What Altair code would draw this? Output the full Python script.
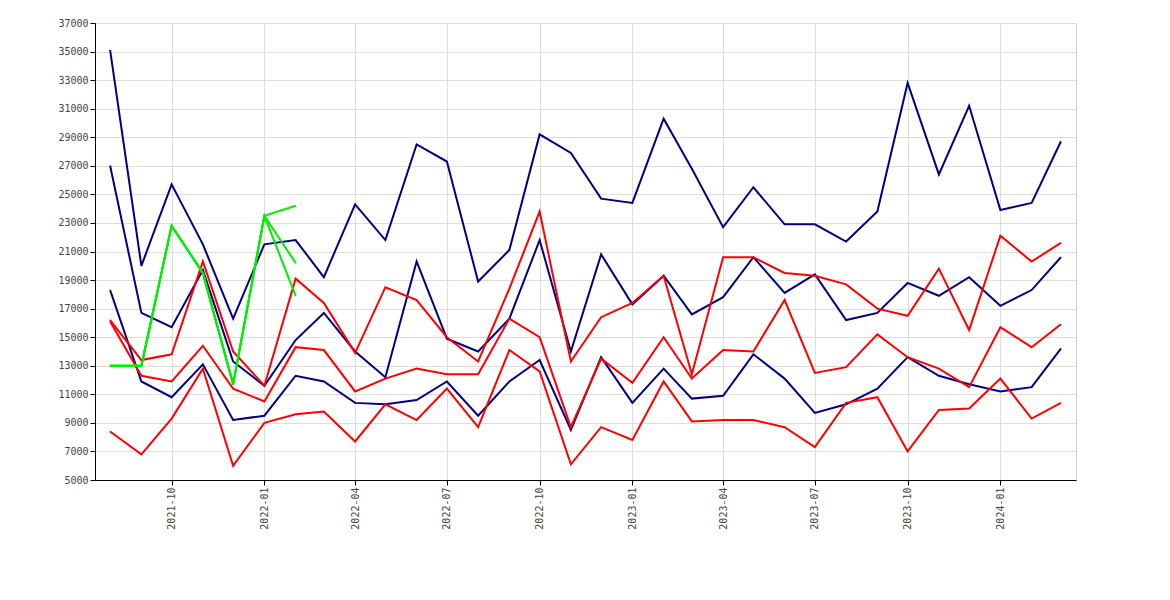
import altair as alt
import pandas as pd

months = pd.date_range("2021-08-01", "2024-03-01", freq="MS")

alle_max = [35100, 20000, 25700, 21500, 16300, 21500, 21800, 19200, 24300, 21800, 28500, 27300,
            18900, 21100, 29200, 27900, 24700, 24400, 30300, 26800, 22700, 25500, 22900, 22900,
            21700, 23800, 32800, 26400, 31200, 23900, 24400, 28700]
alle_mid = [27000, 16700, 15700, 19700, 13300, 11600, 14800, 16700, 14000, 12200, 20300, 14900,
            14000, 16300, 21800, 14000, 20800, 17300, 19300, 16600, 17800, 20600, 18100, 19400,
            16200, 16700, 18800, 17900, 19200, 17200, 18300, 20600]
alle_min = [18300, 11900, 10800, 13100, 9200, 9500, 12300, 11900, 10400, 10300, 10600, 11900,
            9500, 11900, 13400, 8500, 13600, 10400, 12800, 10700, 10900, 13800, 12100, 9700,
            10300, 11400, 13600, 12300, 11700, 11200, 11500, 14200]
villa_max = [16200, 13400, 13800, 20300, 14000, 11600, 19100, 17400, 13900, 18500, 17600, 15000,
             13300, 18400, 23800, 13300, 16400, 17400, 19300, 12400, 20600, 20600, 19500, 19300,
             18700, 17000, 16500, 19800, 15500, 22100, 20300, 21600]
villa_mid = [16100, 12300, 11900, 14400, 11400, 10500, 14300, 14100, 11200, 12100, 12800, 12400,
             12400, 16300, 15000, 8700, 13500, 11800, 15000, 12100, 14100, 14000, 17600, 12500,
             12900, 15200, 13600, 12800, 11500, 15700, 14300, 15900]
villa_min = [8400, 6800, 9300, 12800, 6000, 9000, 9600, 9800, 7700, 10300, 9200, 11400,
             8700, 14100, 12600, 6100, 8700, 7800, 11900, 9100, 9200, 9200, 8700, 7300,
             10400, 10800, 7000, 9900, 10000, 12100, 9300, 10400]
lejl_max = [13000, 13000, 22800, 19500, 11700, 23500, 24200]
lejl_mid = [13000, 13000, 22800, 19500, 11700, 23500, 20200]
lejl_min = [13000, 13000, 22800, 19500, 11700, 23500, 17900]

series = [
    ("a1", alle_max), ("a2", alle_min), ("Alle", alle_mid),
    ("v1", villa_max), ("v2", villa_min), ("Villa", villa_mid),
    ("l1", lejl_max), ("l2", lejl_min), ("Lejlighed", lejl_mid),
]
rows = []
for name, vals in series:
    for m, v in zip(months, vals):
        rows.append({"month": m, "value": v, "series": name})
df = pd.DataFrame(rows)

names = [s[0] for s in series]
colors = ["#000080"] * 3 + ["#ff0000"] * 3 + ["#00ee00"] * 3

font = "DejaVu Sans Mono"
x = alt.X("month:T", title=None,
          scale=alt.Scale(domain=["2021-07-17", "2024-03-16"]),
          axis=alt.Axis(format="%Y-%m", labelAngle=-90, values=[
              "2021-10-01", "2022-01-01", "2022-04-01", "2022-07-01", "2022-10-01",
              "2023-01-01", "2023-04-01", "2023-07-01", "2023-10-01", "2024-01-01"],
              labelAlign="right", labelBaseline="middle"))
y = alt.Y("value:Q", title=None,
          scale=alt.Scale(domain=[5000, 37000], nice=False),
          axis=alt.Axis(values=list(range(5000, 37001, 2000)), format="d"))
cscale = alt.Scale(domain=names, range=colors)

lines = alt.Chart(df).mark_line(strokeWidth=2).encode(
    x=x, y=y,
    color=alt.Color("series:N", sort=names, scale=cscale, legend=None),
    detail="series:N",
)
legend_pts = alt.Chart(df).mark_point(filled=True, size=1, opacity=1).encode(
    x=x, y=y,
    color=alt.Color("series:N", sort=names, scale=cscale,
                    legend=alt.Legend(
                        title=None, orient="none", direction="horizontal",
                        legendX=702, legendY=-40, symbolType="square", symbolSize=40,
                        symbolStrokeColor="#555", symbolStrokeWidth=1, symbolOpacity=1,
                        columnPadding=4,
                        labelExpr="indexof(['Alle','Villa','Lejlighed'], datum.label) >= 0 ? datum.label : ''",
                        strokeColor="#ddd", padding=5, labelFont=font, labelFontSize=11,
                        labelColor="#444")),
)

chart = alt.layer(lines, legend_pts).properties(
    width=981, height=457,
    padding={"left": 49, "top": 10, "right": 5, "bottom": 5},
).configure_view(
    stroke="#ccc"
).configure_axis(
    labelFont=font, labelFontSize=10, labelColor="#444", gridColor="#ddd",
    domainColor="#000", tickColor="#000"
)

chart.save("out.html", embed_options={"renderer": "svg", "actions": False})
